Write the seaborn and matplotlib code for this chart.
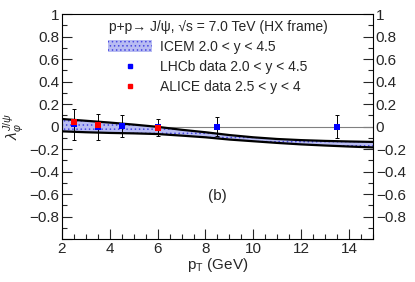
import matplotlib
matplotlib.use("Agg")
import matplotlib.pyplot as plt
import seaborn as sns
import pandas as pd
from matplotlib.patches import Patch
from matplotlib.lines import Line2D
from matplotlib.ticker import MultipleLocator, FuncFormatter

# ICEM band (upper / lower edges)
pt_band = [2, 3, 4, 5, 6, 7, 8, 9, 10, 11, 12, 13, 14, 15]
band_hi = [0.068, 0.052, 0.036, 0.018, -0.002, -0.028, -0.05, -0.075, -0.095, -0.11, -0.12, -0.127, -0.132, -0.136]
band_lo = [-0.042, -0.05, -0.056, -0.06, -0.066, -0.08, -0.095, -0.115, -0.13, -0.145, -0.158, -0.168, -0.177, -0.185]

# LHCb data 2.0 < y < 4.5
lhcb_pt = [2.5, 3.5, 4.5, 6.0, 8.5, 13.5]
lhcb_val = [0.02, 0.0, 0.005, -0.005, 0.0, 0.0]
lhcb_err = [0.14, 0.115, 0.1, 0.075, 0.085, 0.105]

# ALICE data 2.5 < y < 4
alice_pt = [2.5, 3.5, 6.0]
alice_val = [0.045, 0.01, -0.008]

sns.set_theme(style="ticks")
plt.rcParams["font.family"] = ["Liberation Sans", "DejaVu Sans"]
plt.rcParams["mathtext.fontset"] = "custom"
plt.rcParams["mathtext.rm"] = "Liberation Sans"
plt.rcParams["mathtext.it"] = "Liberation Sans:italic"
plt.rcParams["hatch.linewidth"] = 0.6

band = pd.DataFrame({"pt": pt_band, "hi": band_hi, "lo": band_lo})
lhcb = pd.DataFrame({"pt": lhcb_pt, "val": lhcb_val, "err": lhcb_err})
alice = pd.DataFrame({"pt": alice_pt, "val": alice_val})

fig = plt.figure(figsize=(4.15, 2.82), dpi=100)
ax = fig.add_axes([0.149, 0.152, 0.750, 0.798])

ax.axhline(0, color="gray", lw=0.8, zorder=1)

fill_col = "#b8bcf2"
hatch_col = "#4848e0"
ax.fill_between(band["pt"], band["lo"], band["hi"], facecolor=fill_col,
                edgecolor=hatch_col, hatch="....", lw=0, zorder=2)
sns.lineplot(data=band, x="pt", y="hi", color="black", lw=1.6, ax=ax, zorder=3)
sns.lineplot(data=band, x="pt", y="lo", color="black", lw=1.6, ax=ax, zorder=3)

ax.errorbar(lhcb["pt"], lhcb["val"], yerr=lhcb["err"], fmt="none",
            ecolor="black", elinewidth=0.7, capsize=1.5, capthick=0.7, zorder=4)
sns.scatterplot(data=lhcb, x="pt", y="val", marker="s", color="#0000ff",
                s=18, linewidth=0, ax=ax, zorder=5)
sns.scatterplot(data=alice, x="pt", y="val", marker="s", color="#ff0000",
                s=18, linewidth=0, ax=ax, zorder=6)

ax.set_xlim(2, 15)
ax.set_ylim(-1, 1)
ax.xaxis.set_major_locator(MultipleLocator(2))
ax.xaxis.set_minor_locator(MultipleLocator(0.5))
ax.yaxis.set_major_locator(MultipleLocator(0.2))
ax.yaxis.set_minor_locator(MultipleLocator(0.1))


def fmt(v, pos):
    if v < -0.95:
        return ""
    s = f"{v:.1f}".rstrip("0").rstrip(".")
    if s in ("-0", ""):
        s = "0"
    return s.replace("-", "\u2212")


ax.yaxis.set_major_formatter(FuncFormatter(fmt))
ax.tick_params(axis="both", which="both", direction="in", top=False,
               right=True, labelright=True, labelsize=11, pad=2)
ax.tick_params(which="major", length=7, width=0.8)
ax.tick_params(which="minor", length=3.5, width=0.8)
for sp in ax.spines.values():
    sp.set_linewidth(0.8)
    sp.set_color("black")

ax.set_xlabel(r"p$_{\mathrm{T}}$ (GeV)", fontsize=11, labelpad=0)
ax.set_ylabel(r"$\lambda_{\varphi}^{J/\psi}$", fontsize=11, labelpad=2)

ax.text(0.151, 0.942, "p+p\u2192 J/\u03c8, \u221as = 7.0 TeV (HX frame)",
        transform=ax.transAxes, ha="left", va="center", fontsize=10)

handles = [
    Patch(facecolor=fill_col, edgecolor=hatch_col, hatch="....", lw=0),
    Line2D([], [], marker="s", color="#0000ff", ls="none", markersize=3.5),
    Line2D([], [], marker="s", color="#ff0000", ls="none", markersize=3.5),
]
labels = ["ICEM 2.0 < y < 4.5", "LHCb data 2.0 < y < 4.5", "ALICE data 2.5 < y < 4"]
leg = ax.legend(handles, labels, loc="upper left", bbox_to_anchor=(0.148, 0.885),
                frameon=False, fontsize=10, handlelength=3.2,
                handleheight=1.0, labelspacing=0.45, handletextpad=0.58,
                borderaxespad=0, borderpad=0)

ax.text(8.5, -0.62, "(b)", ha="center", va="center", fontsize=11)

fig.savefig("out.png", dpi=100)
